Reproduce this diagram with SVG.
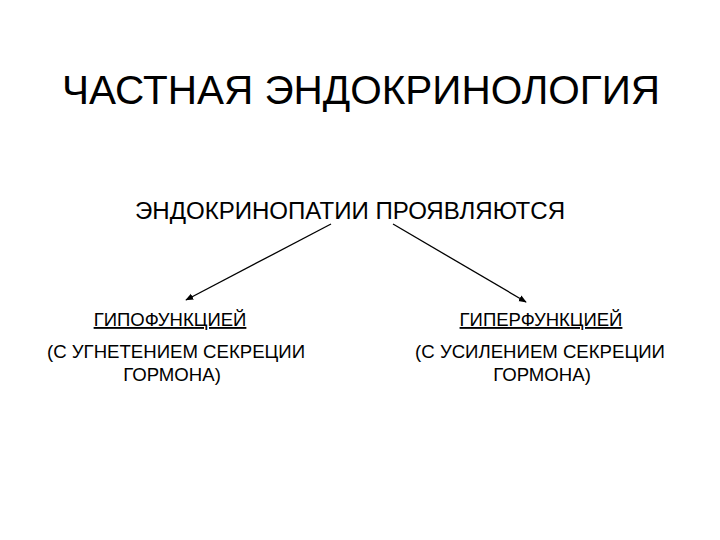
<svg xmlns="http://www.w3.org/2000/svg" width="720" height="540" viewBox="0 0 720 540">
<style>
text{font-family:"Liberation Sans",Arial,sans-serif;fill:#000;text-anchor:middle}
.t{font-size:40.5px}
.s{font-size:23.5px}
.h{font-size:18.5px;text-decoration:underline}
.d{font-size:18.6px}
.c{stroke:#000;stroke-width:1.3;fill:none;marker-end:url(#a)}
</style>
<defs>
<marker id="a" viewBox="0 0 10 10" refX="9" refY="5" markerWidth="8" markerHeight="8" orient="auto" markerUnits="userSpaceOnUse">
<path d="M0,1 L10,5 L0,9 Z" fill="#000"/>
</marker>
</defs>
<rect width="720" height="540" fill="#fff"/>
<g id="title"><text class="t" x="361" y="104">ЧАСТНАЯ ЭНДОКРИНОЛОГИЯ</text></g>
<g id="root"><text class="s" x="350" y="219" textLength="430" lengthAdjust="spacingAndGlyphs">ЭНДОКРИНОПАТИИ ПРОЯВЛЯЮТСЯ</text></g>
<g id="hypo">
<text class="h" x="170" y="326">ГИПОФУНКЦИЕЙ</text>
<text class="d" x="176" y="358">(С УГНЕТЕНИЕМ СЕКРЕЦИИ</text>
<text class="d" x="172" y="381">ГОРМОНА)</text>
</g>
<g id="hyper">
<text class="h" x="541" y="326">ГИПЕРФУНКЦИЕЙ</text>
<text class="d" x="540" y="358">(С УСИЛЕНИЕМ СЕКРЕЦИИ</text>
<text class="d" x="542" y="381">ГОРМОНА)</text>
</g>
<g id="connectors">
<line class="c" x1="331" y1="224" x2="186" y2="300"/>
<line class="c" x1="393" y1="224" x2="526" y2="302"/>
</g>
</svg>
